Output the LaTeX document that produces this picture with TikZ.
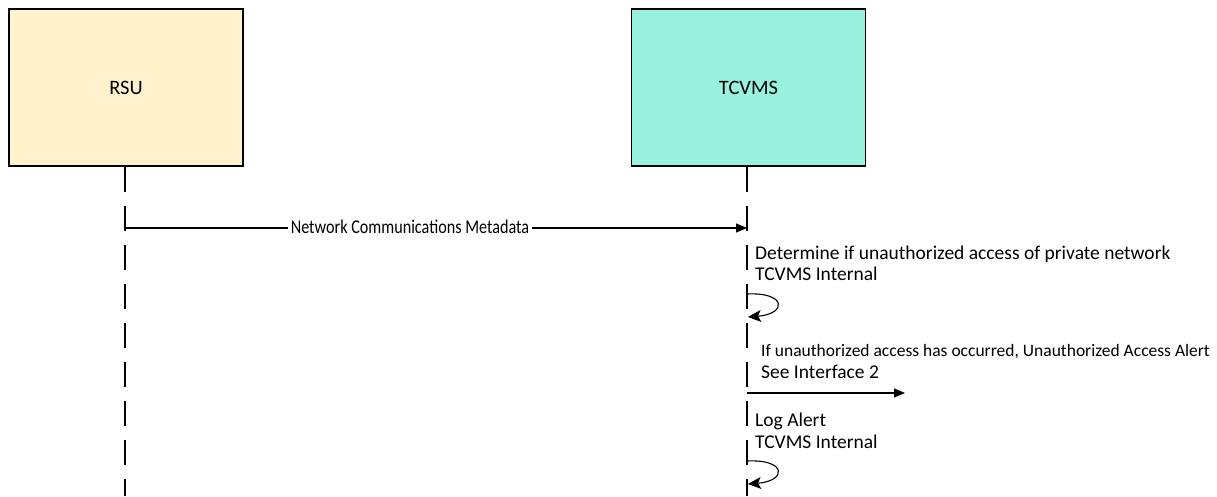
\documentclass[tikz,border=0pt]{standalone}
\usepackage{fontspec}
\usepackage{graphicx}
\setmainfont{Carlito}
\usetikzlibrary{arrows.meta}
\definecolor{rsufill}{HTML}{FFF2CC}
\definecolor{tcvmsfill}{HTML}{98F2DE}
\begin{document}
\begin{tikzpicture}[x=1pt,y=-1pt,
  actor/.style={draw=black,line width=1.1pt,minimum width=234pt,minimum height=157pt,inner sep=0pt,font=\fontsize{20.5}{24}\selectfont},
  lifeline/.style={line width=1.1pt,dash pattern=on 25pt off 14pt},
  msg/.style={line width=1.1pt,-{Triangle[length=11pt,width=9pt]}},
  note/.style={anchor=base west,inner sep=0pt,font=\fontsize{19.5}{23}\selectfont},
  smallnote/.style={anchor=base west,inner sep=0pt,font=\fontsize{17.5}{21}\selectfont},
  selfloop/.style={line width=1.1pt,-{Stealth[length=13pt,width=12pt,inset=3pt]}}]
\useasboundingbox (0,0) rectangle (1217,496);
% participants
\node[actor,fill=rsufill] (rsu) at (126,87.5) {RSU};
\node[actor,fill=tcvmsfill] (tcvms) at (748.5,87.5) {TCVMS};
% lifelines
\coordinate (rsuEnd) at (125,496);
\coordinate (tcEnd) at (747,496);
\draw[lifeline] (rsu.south -| rsuEnd) -- (rsuEnd);
\draw[lifeline] (tcvms.south -| tcEnd) -- (tcEnd);
% message 1
\coordinate (m1a) at (125,228);
\coordinate (m1b) at (747,228);
\draw[msg] (m1a) -- (m1b);
\node[fill=white,anchor=base,inner xsep=3pt,inner ysep=1pt,font=\fontsize{19.5}{23}\selectfont] (m1lbl) at (410,233) {\scalebox{0.83}[1]{Network Communications Metadata}};
% self message: determine access
\node[note] (n1a) at (755,259) {Determine if unauthorized access of private network};
\node[note] (n1b) at (755,280) {TCVMS Internal};
\coordinate (l1s) at (747,294);
\coordinate (l1e) at (748,317);
\draw[selfloop] (l1s) .. controls (787,292) and (787,314) .. (l1e);
% alert to interface 2
\node[smallnote] (n2a) at (761,356) {If unauthorized access has occurred, Unauthorized Access Alert};
\node[note] (n2b) at (761,378) {See Interface 2};
\coordinate (m2a) at (747,393);
\coordinate (m2b) at (905,393);
\draw[msg] (m2a) -- (m2b);
% self message: log alert
\node[note] (n3a) at (755,426) {Log Alert};
\node[note] (n3b) at (755,448) {TCVMS Internal};
\coordinate (l3s) at (747,461);
\coordinate (l3e) at (748,484);
\draw[selfloop] (l3s) .. controls (787,459) and (787,481) .. (l3e);
\end{tikzpicture}
\end{document}
